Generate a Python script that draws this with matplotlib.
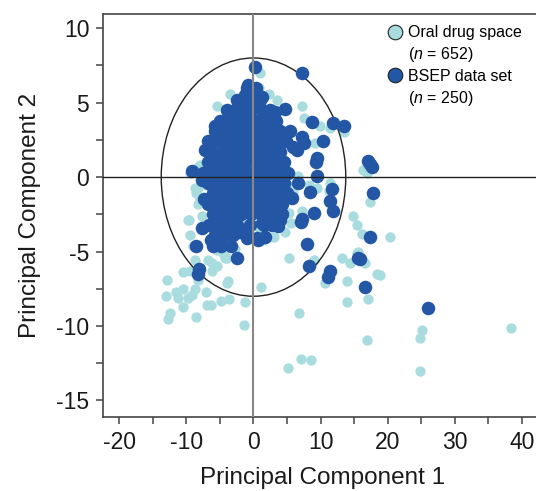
import numpy as np
import matplotlib
matplotlib.use("Agg")
from matplotlib import pyplot as plt
from matplotlib.patches import Ellipse
from matplotlib.lines import Line2D

plt.rcParams['font.family'] = ['Liberation Sans', 'DejaVu Sans']
plt.rcParams['axes.unicode_minus'] = False
plt.rcParams['mathtext.fontset'] = 'custom'
plt.rcParams['mathtext.rm'] = 'Liberation Sans'
plt.rcParams['mathtext.it'] = 'Liberation Sans:italic'

# BSEP data set (PC1, PC2)
bsep_core = [
    (-1.0, 6.0), (0.3, 6.0),
    (-2.5, 5.2), (-1.2, 5.2), (0.0, 5.2), (1.0, 5.2),
    (-4.0, 4.5), (-2.8, 4.5), (-1.5, 4.5), (-0.3, 4.5), (1.2, 4.5), (2.5, 4.5),
    (-5.0, 3.8), (-3.6, 3.8), (-2.2, 3.8), (-0.8, 3.8), (0.5, 3.8), (1.8, 3.8), (3.4, 3.8),
    (-5.8, 3.1), (-4.3, 3.1), (-3.0, 3.1), (-1.6, 3.1), (-0.2, 3.1), (1.2, 3.1), (2.6, 3.1), (4.0, 3.1), (5.5, 3.1),
    (-6.5, 2.4), (-5.0, 2.4), (-3.6, 2.4), (-2.2, 2.4), (-0.9, 2.4), (0.5, 2.4), (1.9, 2.4), (3.3, 2.4), (4.8, 2.4),
    (-6.0, 1.7), (-4.5, 1.7), (-3.0, 1.7), (-1.6, 1.7), (-0.2, 1.7), (1.2, 1.7), (2.6, 1.7), (4.0, 1.7),
    (-6.8, 1.0), (-5.4, 1.0), (-4.0, 1.0), (-2.6, 1.0), (-1.2, 1.0), (0.3, 1.0), (1.7, 1.0), (3.1, 1.0), (4.5, 1.0),
    (-7.5, 0.3), (-6.0, 0.3), (-4.6, 0.3), (-3.2, 0.3), (-1.8, 0.3), (-0.4, 0.3), (1.0, 0.3), (2.4, 0.3), (3.8, 0.3), (5.2, 0.3),
    (-6.8, -0.4), (-5.3, -0.4), (-3.9, -0.4), (-2.5, -0.4), (-1.1, -0.4), (0.3, -0.4), (1.7, -0.4), (3.1, -0.4), (4.5, -0.4),
    (-6.0, -1.1), (-4.6, -1.1), (-3.2, -1.1), (-1.8, -1.1), (-0.4, -1.1), (1.0, -1.1), (2.4, -1.1), (3.8, -1.1), (5.0, -1.1),
    (-6.8, -1.8), (-5.4, -1.8), (-4.0, -1.8), (-2.6, -1.8), (-1.2, -1.8), (0.2, -1.8), (1.6, -1.8), (3.0, -1.8), (4.3, -1.8),
    (-6.0, -2.5), (-4.6, -2.5), (-3.2, -2.5), (-1.8, -2.5), (-0.3, -2.5), (1.1, -2.5), (2.6, -2.5), (4.2, -2.5),
    (-6.6, -3.2), (-5.2, -3.2), (-3.8, -3.2), (-2.5, -3.2), (-0.5, -3.2), (1.5, -3.2), (2.8, -3.2),
    (-5.8, -3.9), (-4.4, -3.9), (-3.0, -3.9),
    (-6.0, -4.6), (-4.8, -4.6), (-3.4, -4.6),
]
bsep_outer = [
    (0.2, 7.4), (7.2, 7.0), (-0.8, 6.2), (-1.2, 5.5), (1.2, 5.4), (4.7, 4.6), (3.2, 4.4),
    (-3.8, 4.0), (-2.0, 4.4), (-5.7, 3.4), (8.7, 3.7), (11.8, 3.6), (13.5, 3.4), (10.3, 2.4),
    (7.2, 2.7), (7.5, 2.3), (9.4, 1.3), (5.9, 2.0), (6.5, 1.8), (17.0, 1.1), (17.3, 0.9),
    (17.6, 0.7), (-6.8, 2.4), (-7.2, 1.8), (-5.1, 1.5), (9.3, 1.0), (9.4, 0.1), (6.7, -0.4),
    (8.4, -1.0), (11.7, -0.8), (11.4, -1.6), (11.8, -2.3), (9.0, -2.4), (7.2, -2.8), (5.7, -1.4),
    (3.9, -2.9), (3.6, -3.3), (7.9, -4.5), (1.7, -4.0), (0.5, -4.1), (2.5, -2.4), (1.2, -3.1),
    (17.3, -4.0), (17.8, -1.1), (8.3, -6.0), (15.5, -5.4), (15.9, -5.5), (11.1, -6.7),
    (11.4, -6.3), (16.6, -7.4), (26.0, -8.8), (7.1, -3.0), (-9.1, 0.4), (-7.7, -3.4),
    (-8.5, -4.6), (-6.4, -4.2), (-2.5, -5.4), (-7.4, -1.5), (-7.7, -0.2), (-4.7, -3.4),
    (-2.0, -3.7), (-1.0, -3.9), (-8.1, -6.2), (-8.3, -6.5), (-1.7, -3.7), (-1.0, -4.1), (0.6, -4.2),
]

# Oral drug space (PC1, PC2)
oral_outer = [
    (38.4, -10.1), (20.4, -4.0), (18.8, -6.6), (25.1, -10.3), (24.8, -10.8), (24.8, -13.0),
    (1.1, -7.4), (6.8, -9.1), (5.1, -12.8), (7.1, -12.2), (8.5, -12.3), (13.9, -8.4),
    (17.0, -8.2), (16.9, -10.95), (13.9, -7.0), (18.4, -6.5), (10.6, -7.1), (16.6, -5.8),
    (14.4, -5.8), (13.2, -5.4), (15.4, -5.1), (9.0, -5.6), (5.3, -5.4),
    (-12.9, -6.9), (-13.0, -8.0), (-12.4, -9.1), (-12.7, -9.5), (-11.6, -7.7), (-10.5, -7.5),
    (-11.3, -8.1), (-10.5, -8.7), (-9.8, -8.1), (-9.2, -7.9), (-8.7, -7.5), (-8.6, -9.4),
    (-7.1, -7.7), (-7.0, -8.6), (-6.4, -8.6), (-4.9, -8.3), (-3.7, -8.2), (-1.3, -8.4),
    (-1.4, -9.9), (-4.0, -7.1), (-10.5, -6.4), (-9.5, -6.3), (-8.3, -6.9), (-6.2, -5.8),
    (-5.5, -6.0), (-6.2, -6.3), (-3.8, -7.0),
    (-9.6, -2.9), (-9.5, -3.9), (-9.0, -4.6), (-8.7, -5.6), (-8.3, -1.8), (-8.3, -0.7),
    (-7.7, -2.6), (-7.2, -3.2), (-6.8, -5.6), (-5.4, -4.9), (-5.0, -4.4), (-4.0, -5.4),
    (-3.5, -4.2), (-2.8, -4.8), (-6.9, 0.7), (-8.3, 0.7), (-8.5, -1.1), (-4.6, -5.1), (-4.2, -5.4),
    (-3.5, 5.6), (-5.4, 4.8), (0.5, 6.0), (0.8, 6.0), (2.3, 5.6), (3.5, 5.2), (7.2, 4.8),
    (7.5, 4.0), (9.9, 3.4), (11.4, 3.3), (9.2, 2.3), (13.5, 3.0), (1.0, 7.0),
    (6.7, 0.1), (8.3, -0.5), (5.9, -1.1), (5.3, -2.4), (7.2, -2.3), (5.6, -3.1), (4.7, -3.7),
    (11.2, -0.9), (14.8, -2.6), (15.4, -3.2), (16.1, -3.8), (16.3, 0.5), (16.9, 0.3),
    (17.3, -1.7), (15.5, -5.0), (1.4, -4.2), (11.4, -0.4), (9.4, -0.7),
    (-8.0, 0.8), (-9.5, 0.3), (-8.7, -0.7), (-8.0, -1.5), (-9.8, -2.9),
]
oral_core = [
    (-6, 2), (-4, 3), (-2, 4), (0, 5), (2, 4), (4, 3), (-5, 0), (-3, 1), (-1, 2), (1, 1),
    (3, 0), (5, -0.5), (-6, -2), (-4, -1), (-2, -2), (0, -1), (2, -2), (4, -1), (-5, -3.5),
    (-3, -3), (-1, -2.8), (1, -3.5), (3, -4), (-7, -0.5), (-2, 0), (0, 3), (2, 2), (-4, 4.5),
    (1, -0.5), (3, 2.5),
]

oral = np.array(oral_outer + oral_core)
bsep = np.array(bsep_core + bsep_outer)

light = '#a8dcdf'
dark = '#2356a4'

fig = plt.figure(figsize=(5.36, 4.91), dpi=100)
ax = fig.add_axes([0.1925, 0.151, 0.8075, 0.8204])

ax.scatter(oral[:, 0], oral[:, 1], s=55, c=light, linewidths=0, zorder=2)
ax.add_patch(Ellipse((0, 0), 27.5, 16, fill=False, ec='#222222', lw=1.0, zorder=3))
ax.scatter(bsep[:, 0], bsep[:, 1], s=95, c=dark, linewidths=0, zorder=4)

ax.axhline(0, color='#222222', lw=1.0, zorder=5)
ax.axvline(0, color='#888888', lw=1.5, zorder=5)

ax.set_xlim(-22.4, 42.1)
ax.set_ylim(-16.1, 10.95)
ax.set_xticks(np.arange(-20, 41, 10))
ax.set_xticks(np.arange(-15, 41, 10), minor=True)
ax.set_yticks(np.arange(-15, 11, 5))
ax.set_yticks(np.arange(-12.5, 11, 5), minor=True)
ax.tick_params(axis='both', which='both', length=5, width=1.1, color='#444444',
               labelsize=16.5, labelcolor='#1a1a1a', pad=5)

for side in ['left', 'bottom', 'top']:
    ax.spines[side].set_color('#444444')
    ax.spines[side].set_linewidth(1.2)
ax.spines['right'].set_visible(False)

ax.set_xlabel('Principal Component 1', fontsize=17.5, color='#1a1a1a', va='center')
ax.xaxis.set_label_coords(0.508, -0.152)
ax.set_ylabel('Principal Component 2', fontsize=17.5, color='#1a1a1a', va='center')
ax.yaxis.set_label_coords(-0.17, 0.5)

handles = [
    Line2D([], [], ls='none', marker='o', ms=10.5, mfc=light, mec='#222222', mew=0.8),
    Line2D([], [], ls='none'),
    Line2D([], [], ls='none', marker='o', ms=10.5, mfc=dark, mec='#222222', mew=0.8),
    Line2D([], [], ls='none'),
]
labels = ['Oral drug space', r'($\it{n}$ = 652)', 'BSEP data set', r'($\it{n}$ = 250)']
ax.legend(handles, labels, loc='upper left', bbox_to_anchor=(0.641, 0.9875), frameon=False,
          fontsize=11.5, handlelength=1.0, handletextpad=0.3, labelspacing=0.3,
          borderpad=0.4, borderaxespad=0)

fig.savefig('out.png', dpi=100)
